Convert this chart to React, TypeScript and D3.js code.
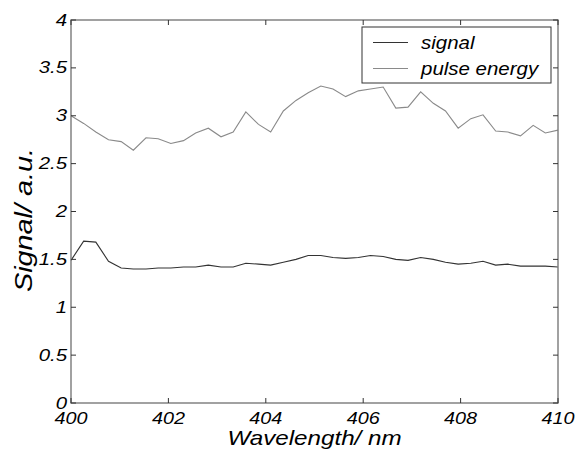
import React from "react";
import * as d3 from "d3";

const wavelengths = [
  400, 400.26, 400.51, 400.77, 401.03, 401.28, 401.54, 401.79, 402.05, 402.31,
  402.56, 402.82, 403.08, 403.33, 403.59, 403.85, 404.1, 404.36, 404.62, 404.87,
  405.13, 405.38, 405.64, 405.9, 406.15, 406.41, 406.67, 406.92, 407.18, 407.44,
  407.69, 407.95, 408.21, 408.46, 408.72, 408.97, 409.23, 409.49, 409.74, 410,
];

const signal = [
  1.49, 1.69, 1.68, 1.48, 1.41, 1.4, 1.4, 1.41, 1.41, 1.42,
  1.42, 1.44, 1.42, 1.42, 1.46, 1.45, 1.44, 1.47, 1.5, 1.54,
  1.54, 1.52, 1.51, 1.52, 1.54, 1.53, 1.5, 1.49, 1.52, 1.5,
  1.47, 1.45, 1.46, 1.48, 1.44, 1.45, 1.43, 1.43, 1.43, 1.42,
];

const pulseEnergy = [
  3.0, 2.92, 2.83, 2.75, 2.73, 2.64, 2.77, 2.76, 2.71, 2.74,
  2.82, 2.87, 2.78, 2.83, 3.04, 2.91, 2.83, 3.05, 3.16, 3.24,
  3.31, 3.28, 3.2, 3.26, 3.28, 3.3, 3.08, 3.09, 3.25, 3.13,
  3.05, 2.87, 2.97, 3.01, 2.84, 2.83, 2.79, 2.9, 2.82, 2.85,
];

const xTicks = [400, 402, 404, 406, 408, 410];
const yTicks = [0, 0.5, 1, 1.5, 2, 2.5, 3, 3.5, 4];
const seriesNames = ["signal", "pulse energy"];

const W = 580;
const H = 453;
const left = 71;
const right = 558;
const top = 20;
const bottom = 403;
const FONT = "'Liberation Sans', Arial, Helvetica, sans-serif";

export default function App() {
  const x = d3.scaleLinear().domain([400, 410]).range([left, right]);
  const y = d3.scaleLinear().domain([0, 4]).range([bottom, top]);
  const line = d3
    .line<number>()
    .x((_, i) => x(wavelengths[i]))
    .y((d) => y(d));

  const axisColor = "#7a7a7a";
  const tickLen = 5;

  const T = (props: {
    x: number;
    y: number;
    size: number;
    sx?: number;
    anchor?: string;
    rotate?: number;
    children: React.ReactNode;
    dy?: string;
  }) => (
    <text
      transform={`translate(${props.x},${props.y})${props.rotate ? ` rotate(${props.rotate})` : ""} scale(${props.sx ?? 1.2},1)`}
      textAnchor={props.anchor || "start"}
      fontFamily={FONT}
      fontStyle="italic"
      fontSize={props.size}
      fill="#000"
      dy={props.dy}
    >
      {props.children}
    </text>
  );

  return (
    <svg
      width={W}
      height={H}
      style={{ position: "absolute", left: 0, top: 0, background: "#fff" }}
    >
      <rect x={0} y={0} width={W} height={H} fill="#fff" />
      {/* data lines */}
      <path d={line(pulseEnergy) || ""} fill="none" stroke="#8a8a8a" strokeWidth={1.1} />
      <path d={line(signal) || ""} fill="none" stroke="#333" strokeWidth={1.1} />

      {/* axes box */}
      <rect
        x={left}
        y={top}
        width={right - left}
        height={bottom - top}
        fill="none"
        stroke={axisColor}
        strokeWidth={1.4}
      />
      {xTicks.map((t) => (
        <g key={"xt" + t}>
          <line x1={x(t)} x2={x(t)} y1={bottom} y2={bottom - tickLen} stroke="#333" strokeWidth={1} />
          <line x1={x(t)} x2={x(t)} y1={top} y2={top + tickLen} stroke="#333" strokeWidth={1} />
          <T x={x(t)} y={424} size={16.5} anchor="middle">
            {String(t)}
          </T>
        </g>
      ))}
      {yTicks.map((t) => (
        <g key={"yt" + t}>
          <line x1={left} x2={left + tickLen} y1={y(t)} y2={y(t)} stroke="#333" strokeWidth={1} />
          <line x1={right} x2={right - tickLen} y1={y(t)} y2={y(t)} stroke="#333" strokeWidth={1} />
          <T x={left - 4} y={y(t)} size={17} anchor="end" dy="0.33em">
            {String(t)}
          </T>
        </g>
      ))}

      {/* axis labels */}
      <T x={(left + right) / 2} y={445} size={20.5} sx={1.18} anchor="middle">
        Wavelength/ nm
      </T>
      <T x={32} y={220} size={24} sx={1.2} anchor="middle" rotate={-90}>
        Signal/ a.u.
      </T>

      {/* legend */}
      <rect x={362} y={27} width={189} height={56} fill="#fff" stroke="#333" strokeWidth={1} />
      <line x1={373} x2={408} y1={42.5} y2={42.5} stroke="#333" strokeWidth={1.1} />
      <line x1={373} x2={408} y1={68.5} y2={68.5} stroke="#8a8a8a" strokeWidth={1.1} />
      <T x={421} y={49} size={17.5} sx={1.17}>
        {seriesNames[0]}
      </T>
      <T x={421} y={75} size={17.5} sx={1.17}>
        {seriesNames[1]}
      </T>
    </svg>
  );
}
